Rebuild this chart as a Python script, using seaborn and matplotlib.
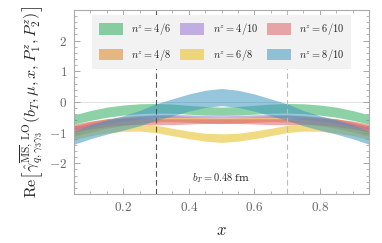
import numpy as np
import matplotlib
matplotlib.use("Agg")
import matplotlib.pyplot as plt
import seaborn as sns

# x grid and band edges (symmetric about x = 0.5)
x_vals = [0.05, 0.10, 0.15, 0.20, 0.25, 0.30, 0.35, 0.40, 0.45, 0.50,
          0.55, 0.60, 0.65, 0.70, 0.75, 0.80, 0.85, 0.90, 0.95]

labels = ["4/6", "4/8", "4/10", "6/8", "6/10", "8/10"]

half_upper = {
    "4/6":  [-0.42, -0.28, -0.17, -0.10, -0.06, -0.05, -0.07, -0.11, -0.15, -0.17],
    "4/8":  [-0.78, -0.65, -0.55, -0.48, -0.44, -0.43, -0.45, -0.48, -0.51, -0.52],
    "4/10": [-0.82, -0.70, -0.60, -0.52, -0.46, -0.42, -0.41, -0.42, -0.44, -0.45],
    "6/8":  [-0.95, -0.82, -0.73, -0.68, -0.70, -0.76, -0.86, -0.95, -1.02, -1.04],
    "6/10": [-0.72, -0.62, -0.55, -0.52, -0.52, -0.55, -0.55, -0.55, -0.55, -0.55],
    "8/10": [-0.95, -0.75, -0.58, -0.45, -0.28, -0.06, 0.10, 0.26, 0.38, 0.44],
}
half_lower = {
    "4/6":  [-0.72, -0.60, -0.50, -0.43, -0.38, -0.36, -0.37, -0.40, -0.43, -0.44],
    "4/8":  [-1.12, -0.98, -0.86, -0.77, -0.70, -0.65, -0.64, -0.66, -0.69, -0.70],
    "4/10": [-0.92, -0.80, -0.70, -0.62, -0.56, -0.52, -0.50, -0.50, -0.51, -0.52],
    "6/8":  [-1.22, -1.10, -1.01, -0.96, -0.95, -1.00, -1.10, -1.20, -1.28, -1.32],
    "6/10": [-0.98, -0.88, -0.80, -0.75, -0.73, -0.74, -0.74, -0.72, -0.70, -0.70],
    "8/10": [-1.38, -1.20, -1.05, -0.92, -0.78, -0.60, -0.45, -0.30, -0.18, -0.12],
}

colors = ["#2fae5f", "#dc8426", "#9877d8", "#e6bf1c", "#de6464", "#3f97c0"]

sns.set_theme(style="ticks")
plt.rcParams["font.family"] = "serif"
plt.rcParams["font.serif"] = ["DejaVu Serif"]
plt.rcParams["mathtext.fontset"] = "cm"

fig = plt.figure(figsize=(3.82, 2.43), dpi=100)
ax = fig.add_axes([0.194, 0.202, 0.772, 0.757])

x = np.array(x_vals)
for lab, c in zip(labels, colors):
    up = half_upper[lab]
    lo = half_lower[lab]
    up_full = np.array(up + up[-2::-1])
    lo_full = np.array(lo + lo[-2::-1])
    ax.fill_between(x, lo_full, up_full, color=c, alpha=0.55, lw=0,
                    label=r"$n^z = %s$" % lab)

ax.axhline(0, color="#dddddd", lw=0.6, zorder=0)
ax.axvline(0.3, color="#555555", lw=0.8, ls=(0, (5, 3)))
ax.axvline(0.7, color="#bbbbbb", lw=0.8, ls=(0, (5, 3)))
ax.text(0.5, -2.5, r"$b_T = 0.48$ fm", ha="center", va="center", fontsize=7.5)

ax.set_xlim(0.05, 0.95)
ax.set_ylim(-3, 3)
ax.set_xticks([0.2, 0.4, 0.6, 0.8])
ax.set_xticklabels(["$0.2$", "$0.4$", "$0.6$", "$0.8$"])
ax.set_yticks([-2, -1, 0, 1, 2])
ax.set_yticklabels(["$-2$", "$-1$", "$0$", "$1$", "$2$"])
ax.set_xticks(np.arange(0.05, 0.951, 0.05), minor=True)
ax.set_yticks(np.arange(-3, 3.01, 0.2), minor=True)
ax.tick_params(which="both", direction="in", top=True, right=True,
               color="#999999", labelcolor="#666666", labelsize=9.5)
ax.tick_params(which="major", length=4, width=0.6, pad=5)
ax.tick_params(which="minor", length=2, width=0.5)
for s in ax.spines.values():
    s.set_color("#aaaaaa")
    s.set_linewidth(0.8)

ax.set_xlabel("$x$", fontsize=12, labelpad=6)
ax.set_ylabel(r"$\mathrm{Re}\left[\hat{\gamma}^{\overline{\rm MS},\,{\rm LO}}_{q,\gamma_3\gamma_3}(b_T,\mu,x,P_1^z,P_2^z)\right]$",
              fontsize=11.5, labelpad=2)

leg = ax.legend(ncol=3, loc="upper center", bbox_to_anchor=(0.5, 1.0),
                fontsize=7.5, frameon=True, fancybox=False,
                handlelength=2.3, handleheight=1.3, columnspacing=0.9,
                borderpad=0.6, labelspacing=0.9, handletextpad=0.8)
leg.get_frame().set_facecolor("#f2f2f2")
leg.get_frame().set_edgecolor("none")
leg.get_frame().set_alpha(1)

fig.savefig("out.png", dpi=100)
